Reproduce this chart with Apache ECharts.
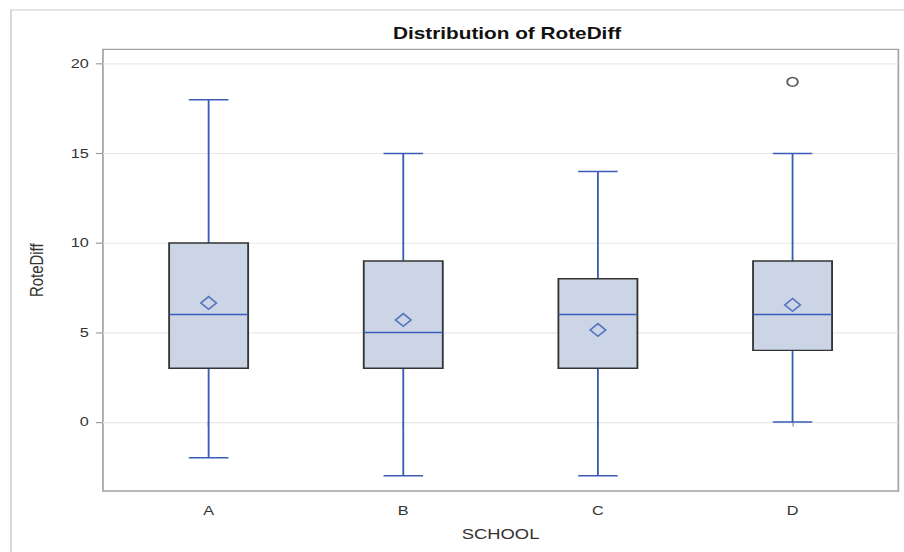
<!DOCTYPE html>
<html>
<head>
<meta charset="utf-8">
<script src="https://cdn.jsdelivr.net/npm/echarts@6/dist/echarts.min.js"></script>
<style>
html,body{margin:0;padding:0;background:#fff;overflow:hidden;width:904px;height:552px;}
#c{width:640px;height:480px;transform:scale(1.4125,1.15);transform-origin:0 0;}
</style>
</head>
<body>
<div id="c"></div>
<script>
// ---- data ----
const categories = ['A', 'B', 'C', 'D'];
const mins    = [-2, -3, -3, 0];
const q1s     = [3, 3, 3, 4];
const medians = [6, 5, 6, 6];
const q3s     = [10, 9, 8, 9];
const maxs    = [18, 15, 14, 15];
const means   = [6.65, 5.7, 5.14, 6.54];
const outlierCats   = [3];
const outlierValues = [19];
const yTicks = [0, 5, 10, 15, 20];

const BLUE = '#3a5cb8';
const FILL = '#cbd5e6';
const DARK = '#333333';
const FONT = '"Liberation Sans", Arial, sans-serif';

const boxData = categories.map((c, i) => [i, mins[i], q1s[i], medians[i], q3s[i], maxs[i]]);
const meanData = categories.map((c, i) => [i, means[i]]);
const outlierData = outlierCats.map((c, i) => [c, outlierValues[i]]);

const Y_MIN = -3.86, Y_MAX = 20.82;

const chart = echarts.init(document.getElementById('c'), null, {renderer: 'svg', width: 640, height: 480});

function renderBox(params, api) {
  const i = api.value(0);
  const lo = api.value(1), q1 = api.value(2), med = api.value(3), q3 = api.value(4), hi = api.value(5);
  const band = api.size([1, 0])[0];
  const hw = band * 0.203, cw = hw / 2;
  const pLo = api.coord([i, lo]), pQ1 = api.coord([i, q1]), pMed = api.coord([i, med]);
  const pQ3 = api.coord([i, q3]), pHi = api.coord([i, hi]);
  const x = pLo[0];
  const ls = {stroke: BLUE, lineWidth: 1.3};
  return {
    type: 'group',
    children: [
      {type: 'line', shape: {x1: x, y1: pQ1[1], x2: x, y2: pLo[1]}, style: ls},
      {type: 'line', shape: {x1: x - cw, y1: pLo[1], x2: x + cw, y2: pLo[1]}, style: ls},
      {type: 'line', shape: {x1: x, y1: pQ3[1], x2: x, y2: pHi[1]}, style: ls},
      {type: 'line', shape: {x1: x - cw, y1: pHi[1], x2: x + cw, y2: pHi[1]}, style: ls},
      {type: 'rect', shape: {x: x - hw, y: pQ3[1], width: 2 * hw, height: pQ1[1] - pQ3[1]},
        style: {fill: FILL, stroke: DARK, lineWidth: 1.3}},
      {type: 'line', shape: {x1: x - hw, y1: pMed[1], x2: x + hw, y2: pMed[1]}, style: ls}
    ]
  };
}

const option = {
  backgroundColor: '#ffffff',
  animation: false,
  title: {
    text: 'Distribution of RoteDiff',
    left: 354, top: 16.5, textAlign: 'center',
    textStyle: {fontFamily: FONT, fontSize: 14.7, fontWeight: 'bold', color: '#111'}
  },
  graphic: [{
    type: 'rect', shape: {x: 7.8, y: 8.7, width: 700, height: 600},
    style: {fill: 'none', stroke: '#c8c8c8', lineWidth: 1}, silent: true, z: -1
  }],
  grid: [
    {left: 72.9, top: 42.9, width: 563.1, height: 384.1, show: true,
     borderColor: '#a3a3a3', borderWidth: 1.2, backgroundColor: '#fff'},
    {left: 78.8, top: 42.9, width: 551.2, height: 384.1}
  ],
  xAxis: [
    {gridIndex: 0, type: 'value', min: 0, max: 1, show: false},
    {gridIndex: 1, type: 'category', data: categories, boundaryGap: true,
     name: 'SCHOOL', nameLocation: 'middle', nameGap: 31,
     nameTextStyle: {fontFamily: FONT, fontSize: 13, color: '#333'},
     axisLine: {show: false},
     axisTick: {show: true, alignWithLabel: true, length: 4, lineStyle: {color: '#999'}},
     axisLabel: {fontFamily: FONT, fontSize: 11.5, color: '#333', margin: 11}
    }
  ],
  yAxis: [
    {gridIndex: 0, type: 'value', min: Y_MIN, max: Y_MAX, splitNumber: 5,
     name: 'RoteDiff', nameLocation: 'middle', nameGap: 40, nameRotate: 90,
     nameTextStyle: {fontFamily: FONT, fontSize: 13, color: '#333'},
     axisLine: {show: false},
     axisTick: {show: true, length: 5, customValues: yTicks, lineStyle: {color: '#999'}},
     axisLabel: {fontFamily: FONT, fontSize: 11.5, color: '#333', margin: 10,
       customValues: yTicks, showMinLabel: true, showMaxLabel: true},
     splitLine: {show: true, lineStyle: {color: '#e8e8e8', width: 1}}
    },
    {gridIndex: 1, type: 'value', min: Y_MIN, max: Y_MAX, show: false, splitLine: {show: false}}
  ],
  series: [
    {type: 'custom', xAxisIndex: 1, yAxisIndex: 1, data: boxData,
     encode: {x: 0, y: [1, 2, 3, 4, 5]}, renderItem: renderBox, z: 3, silent: true},
    {type: 'scatter', xAxisIndex: 1, yAxisIndex: 1, data: meanData, symbol: 'diamond', symbolSize: 11,
     itemStyle: {color: 'rgba(0,0,0,0)', borderColor: BLUE, borderWidth: 1.3}, z: 4, silent: true},
    {type: 'scatter', xAxisIndex: 1, yAxisIndex: 1, data: outlierData, symbol: 'circle', symbolSize: 7.5,
     itemStyle: {color: 'rgba(0,0,0,0)', borderColor: DARK, borderWidth: 1.3}, z: 4, silent: true}
  ]
};
chart.setOption(option);
</script>
</body>
</html>
